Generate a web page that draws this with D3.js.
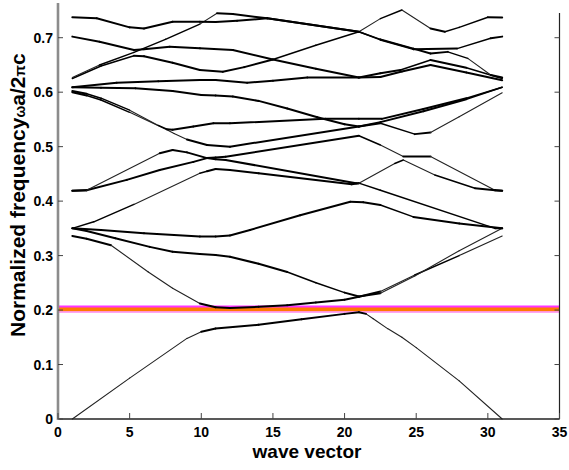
<html lang="en">
<head>
<meta charset="UTF-8">
<title>Band structure</title>
<script src="https://d3js.org/d3.v7.min.js"></script>
<style>
    body { margin: 0; background: #fff; }
    svg { display: block; }
    .tick-label { font-family: 'Liberation Sans', Arial, sans-serif; font-weight: bold; font-size: 14px; fill: #000; }
    .axis-title { font-family: 'Liberation Sans', Arial, sans-serif; font-weight: bold; fill: #000; }
</style>
</head>
<body>
<svg id="chart" width="569" height="470"></svg>
<script>
    // band data: [wave vector, normalized frequency]
    const band1 = [[1,0],[5,0.075],[9,0.148],[10,0.160],[11,0.166],[14,0.173],[17,0.183],[20,0.193],[21,0.196],[21.5,0.193],[22,0.184],[23,0.166],[24,0.150],[25,0.131],[28,0.07],[31,0]];
    const band2 = [[1,0.336],[2,0.331],[3.7,0.319],[6.3,0.27],[8,0.24],[9.9,0.212],[11,0.205],[12,0.204],[14,0.206],[16,0.209],[18,0.214],[20,0.219],[21,0.2245],[22.5,0.234],[24.9,0.2644],[28,0.30],[31,0.336]];
    const band3 = [[1,0.35],[2,0.345],[4,0.332],[6.4,0.316],[8,0.307],[9.9,0.303],[11,0.301],[12,0.298],[14,0.285],[16,0.27],[18,0.25],[20,0.232],[21,0.225],[22.5,0.231],[24.9,0.2625],[28,0.309],[31,0.35]];
    const band4 = [[1,0.35],[3,0.347],[6,0.341],[9.9,0.335],[11,0.335],[12,0.337],[13.4,0.347],[16.9,0.374],[20.4,0.399],[21.3,0.398],[22.5,0.393],[24.8,0.371],[28,0.359],[31,0.35]];
    const band5 = [[1,0.35],[2.5,0.362],[5.3,0.394],[9.9,0.451],[10.4,0.455],[11,0.459],[12,0.457],[14,0.451],[20.5,0.431],[21,0.433],[22.5,0.42],[30.5,0.35],[31,0.35]];
    const band6 = [[1,0.419],[2,0.42],[4.8,0.439],[7.1,0.457],[9.45,0.472],[10.4,0.479],[11,0.48],[11.7,0.4816],[21,0.52],[22.5,0.503],[24.1,0.482],[26,0.482],[30.5,0.42],[31,0.419]];
    const band7 = [[1,0.419],[2,0.42],[7.1,0.488],[8,0.494],[9,0.4895],[10.4,0.479],[11,0.477],[11.7,0.4755],[20.8,0.433],[21,0.433],[23.5,0.469],[24.1,0.4755],[26.3,0.448],[29.1,0.4235],[30.5,0.42],[31,0.419]];
    const band8 = [[1,0.600],[2,0.594],[3,0.5856],[5,0.563],[7.6,0.531],[8.1,0.524],[9,0.513],[10.4,0.503],[12,0.500],[21,0.537],[22.5,0.545],[25.5,0.565],[28.5,0.587],[31,0.609]];
    const band9 = [[1,0.602],[2,0.597],[3,0.589],[5,0.567],[7,0.539],[7.6,0.532],[8,0.531],[9.45,0.537],[10.85,0.543],[12,0.543],[18.65,0.551],[21,0.551],[22.6,0.551],[25.5,0.569],[28.5,0.589],[31,0.609]];
    const band10 = [[1,0.609],[3,0.608],[5.4,0.607],[8,0.602],[10,0.595],[11,0.594],[12.2,0.592],[14,0.584],[16,0.57],[18.1,0.554],[20,0.541],[21,0.537],[22.5,0.543],[24.9,0.523],[26,0.526],[28,0.555],[31,0.599]];
    const band11 = [[1,0.609],[4.1,0.6174],[7,0.620],[9.9,0.6224],[11,0.6224],[13.2,0.6174],[15,0.621],[17.4,0.627],[21,0.627],[22.5,0.6347],[23.9,0.6407],[26,0.659],[28.5,0.645],[31,0.625]];
    const band12 = [[1,0.625],[3,0.648],[5.3,0.667],[6,0.666],[8,0.654],[9.9,0.6407],[11.5,0.6376],[13,0.646],[15,0.66],[18,0.686],[21,0.711],[22.5,0.735],[24,0.751],[26,0.717],[27,0.711],[28,0.719],[30,0.7375],[31,0.737]];
    const band13 = [[1,0.702],[2.9,0.6927],[5.3,0.6774],[6,0.679],[7.8,0.6835],[9.9,0.6805],[12.2,0.6774],[15,0.660],[18,0.643],[21,0.627],[22.5,0.628],[24,0.638],[26,0.650],[28.5,0.636],[31,0.622]];
    const band14 = [[1,0.627],[2.9,0.65],[5.3,0.673],[7.5,0.697],[9.9,0.725],[11.1,0.7448],[12.2,0.7435],[14.6,0.7356],[21,0.711],[22.5,0.697],[24.8,0.680],[26,0.671],[27.2,0.674],[28.6,0.662],[30.2,0.6315],[31,0.627]];
    const band15 = [[1,0.7375],[2.7,0.7356],[5,0.719],[6,0.717],[8,0.7294],[9.9,0.7294],[11,0.729],[12.5,0.731],[14.6,0.7356],[21,0.711],[22.5,0.696],[24.8,0.679],[27.85,0.680],[30.2,0.699],[31,0.702]];
    const bands = [band1, band2, band3, band4, band5, band6, band7, band8, band9, band10, band11, band12, band13, band14, band15];

    // horizontal lines near 0.2 (top, middle, bottom)
    const gapLevels = [0.2065, 0.2014, 0.1964];

    const xTicks = [0, 5, 10, 15, 20, 25, 30, 35];
    const yTicks = [0, 0.1, 0.2, 0.3, 0.4, 0.5, 0.6, 0.7];

    const plotLeft = 58, plotRight = 559.5, plotTop = 4, plotBottom = 419;
    const yMax = (plotBottom - plotTop) / 544.7;

    const x = d3.scaleLinear().domain([0, 35]).range([plotLeft, plotRight]);
    const y = d3.scaleLinear().domain([0, yMax]).range([plotBottom, plotTop]);

    const svg = d3.select('#chart');

    // colored lines at the gap edge
    const gapColors = ['#ff33ff', '#ff7a00', '#ff88ee'];
    const gapWidths = [2, 4.5, 1.6];
    [1, 0, 2].forEach(i => {
        svg.append('line')
            .attr('x1', x(0)).attr('x2', x(35))
            .attr('y1', y(gapLevels[i])).attr('y2', y(gapLevels[i]))
            .attr('stroke', gapColors[i])
            .attr('stroke-width', gapWidths[i]);
    });

    // bands, drawn segment by segment: steep pieces render thinner in the original
    const seg = d3.line().x(d => x(d[0])).y(d => y(d[1]));
    bands.forEach(b => {
        for (let i = 0; i < b.length - 1; i++) {
            const p = b[i], q = b[i + 1];
            const slope = Math.abs((y(q[1]) - y(p[1])) / (x(q[0]) - x(p[0])));
            const w = slope < 0.3 ? 2 : slope < 0.45 ? 1.5 : 1.1;
            svg.append('path')
                .attr('d', seg([p, q]))
                .attr('fill', 'none')
                .attr('stroke', slope < 0.45 ? '#000' : '#222')
                .attr('stroke-width', w)
                .attr('stroke-linecap', 'round');
        }
    });

    // axes
    svg.append('line')
        .attr('x1', plotLeft).attr('x2', plotRight).attr('y1', plotBottom).attr('y2', plotBottom)
        .attr('stroke', '#222').attr('stroke-width', 1.5);
    svg.append('line')
        .attr('x1', plotRight).attr('x2', plotRight).attr('y1', plotTop + 9).attr('y2', plotBottom)
        .attr('stroke', '#222').attr('stroke-width', 1.2);
    svg.append('line')
        .attr('x1', plotLeft).attr('x2', plotLeft).attr('y1', plotTop - 1).attr('y2', plotBottom + 1)
        .attr('stroke', '#8c8c8c').attr('stroke-width', 2.6);

    xTicks.forEach(t => {
        svg.append('line')
            .attr('x1', x(t)).attr('x2', x(t)).attr('y1', plotBottom).attr('y2', plotBottom - 6)
            .attr('stroke', '#444').attr('stroke-width', 1);
        svg.append('text')
            .attr('class', 'tick-label')
            .attr('x', x(t)).attr('y', plotBottom + 18)
            .attr('text-anchor', 'middle')
            .text(t);
    });

    yTicks.forEach(t => {
        svg.append('line')
            .attr('x1', plotLeft).attr('x2', plotLeft + 5).attr('y1', y(t)).attr('y2', y(t))
            .attr('stroke', '#444').attr('stroke-width', 1);
        svg.append('line')
            .attr('x1', plotRight).attr('x2', plotRight - 5).attr('y1', y(t)).attr('y2', y(t))
            .attr('stroke', '#444').attr('stroke-width', 1);
        svg.append('text')
            .attr('class', 'tick-label')
            .attr('x', plotLeft - 5).attr('y', y(t) + 5)
            .attr('text-anchor', 'end')
            .text(t === 0 ? '0' : d3.format('.1f')(t));
    });

    svg.append('text')
        .attr('class', 'axis-title')
        .attr('x', 307).attr('y', 458)
        .attr('text-anchor', 'middle')
        .attr('font-size', 19)
        .text('wave vector');

    const yTitle = svg.append('text')
        .attr('class', 'axis-title')
        .attr('transform', 'translate(25,337) rotate(-90)')
        .attr('font-size', 21);
    yTitle.append('tspan').text('Normalized frequency');
    yTitle.append('tspan').attr('font-size', 14).text('ω');
    yTitle.append('tspan').text('a/2');
    yTitle.append('tspan').attr('font-size', 15).text('π');
    yTitle.append('tspan').text('c');
</script>
</body>
</html>
